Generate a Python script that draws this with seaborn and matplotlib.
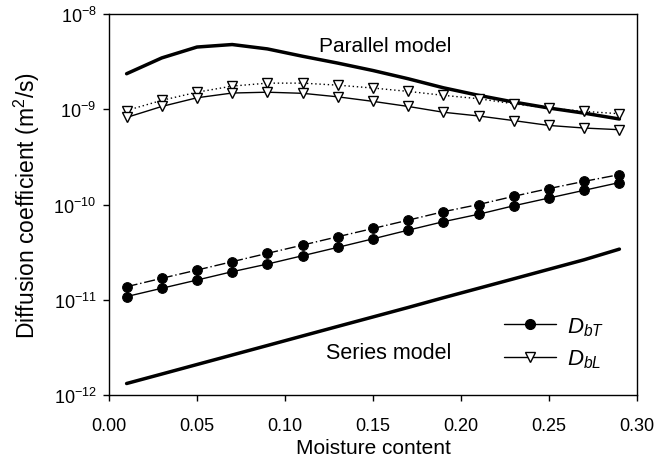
import numpy as np
import pandas as pd
import matplotlib
matplotlib.use("Agg")
import matplotlib.pyplot as plt
import matplotlib.ticker as mticker
import seaborn as sns
from matplotlib.lines import Line2D

# ---- data ----
moisture = [0.01, 0.03, 0.05, 0.07, 0.09, 0.11, 0.13, 0.15, 0.17, 0.19, 0.21, 0.23, 0.25, 0.27, 0.29]

parallel_model = [2.36e-9, 3.46e-9, 4.5e-9, 4.78e-9, 4.3e-9, 3.6e-9, 3.05e-9, 2.55e-9,
                  2.09e-9, 1.68e-9, 1.4e-9, 1.19e-9, 1.03e-9, 9.1e-10, 7.9e-10]
series_model = [1.32e-12, 1.66e-12, 2.09e-12, 2.63e-12, 3.31e-12, 4.17e-12, 5.25e-12, 6.6e-12,
                8.3e-12, 1.05e-11, 1.32e-11, 1.66e-11, 2.09e-11, 2.63e-11, 3.4e-11]

dbl_upper = [9.7e-10, 1.24e-9, 1.51e-9, 1.75e-9, 1.88e-9, 1.88e-9, 1.79e-9, 1.67e-9,
             1.54e-9, 1.40e-9, 1.29e-9, 1.14e-9, 1.03e-9, 9.5e-10, 8.97e-10]
dbl_lower = [8.2e-10, 1.07e-9, 1.32e-9, 1.48e-9, 1.51e-9, 1.47e-9, 1.35e-9, 1.21e-9,
             1.07e-9, 9.3e-10, 8.5e-10, 7.6e-10, 6.76e-10, 6.35e-10, 6.1e-10]

dbt_upper = [1.37e-11, 1.68e-11, 2.05e-11, 2.51e-11, 3.07e-11, 3.75e-11, 4.59e-11, 5.6e-11,
             6.85e-11, 8.4e-11, 1.0e-10, 1.22e-10, 1.47e-10, 1.75e-10, 2.06e-10]
dbt_lower = [1.08e-11, 1.32e-11, 1.61e-11, 1.97e-11, 2.37e-11, 2.9e-11, 3.55e-11, 4.36e-11,
             5.38e-11, 6.6e-11, 7.9e-11, 9.7e-11, 1.17e-10, 1.41e-10, 1.7e-10]

x_ticks = [0.00, 0.05, 0.10, 0.15, 0.20, 0.25, 0.30]
y_ticks = [1e-12, 1e-11, 1e-10, 1e-9, 1e-8]
legend_labels = [r"$D_{bT}$", r"$D_{bL}$"]

sns.set_theme(style="ticks")
plt.rcParams['font.family'] = ['Liberation Sans', 'DejaVu Sans']
plt.rcParams['mathtext.fontset'] = 'custom'
plt.rcParams['mathtext.rm'] = 'Liberation Sans'
plt.rcParams['mathtext.it'] = 'Liberation Sans:italic'
plt.rcParams['text.color'] = 'black'
plt.rcParams['axes.labelcolor'] = 'black'
plt.rcParams['xtick.color'] = 'black'
plt.rcParams['ytick.color'] = 'black'

fig = plt.figure(figsize=(6.72, 4.77), dpi=100)
ax = fig.add_axes([109/672, 1 - 396/477, (637-109)/672, (396-15)/477])

thin = dict(color="black", linewidth=1.0)
msz = 7

sns.lineplot(x=moisture, y=parallel_model, ax=ax, color="black", linewidth=2.5)
sns.lineplot(x=moisture, y=series_model, ax=ax, color="black", linewidth=2.5)

sns.lineplot(x=moisture, y=dbl_upper, ax=ax, linestyle=(0, (1, 2)), marker="v",
             markersize=msz, markerfacecolor="white", markeredgecolor="black",
             markeredgewidth=1.0, **thin)
sns.lineplot(x=moisture, y=dbl_lower, ax=ax, linestyle="-", marker="v",
             markersize=msz, markerfacecolor="white", markeredgecolor="black",
             markeredgewidth=1.0, **thin)
sns.lineplot(x=moisture, y=dbt_upper, ax=ax, linestyle=(0, (8, 2, 1, 2)), marker="o",
             markersize=msz, markerfacecolor="black", markeredgecolor="black", **thin)
sns.lineplot(x=moisture, y=dbt_lower, ax=ax, linestyle="-", marker="o",
             markersize=msz, markerfacecolor="black", markeredgecolor="black", **thin)

ax.set_yscale("log")
ax.set_xlim(0, 0.30)
ax.set_ylim(1e-12, 1e-8)
ax.set_xticks(x_ticks)
ax.set_xticklabels([f"{t:.2f}" for t in x_ticks])
ax.yaxis.set_major_locator(mticker.FixedLocator(y_ticks))
ax.yaxis.set_minor_locator(mticker.NullLocator())
ax.yaxis.set_major_formatter(mticker.FuncFormatter(lambda v, p: r"$10^{%d}$" % round(np.log10(v))))

for s in ax.spines.values():
    s.set_linewidth(1.0)
    s.set_color("black")
ax.tick_params(axis="both", direction="out", length=4, width=1.0, labelsize=13, colors="black")
ax.tick_params(axis="x", pad=12)
ax.tick_params(axis="y", pad=5)

ax.set_xlabel("Moisture content", fontsize=15, labelpad=3)
ax.set_ylabel(r"Diffusion coefficient (m$^2$/s)", fontsize=16.5, labelpad=8)

ax.text(0.157, 4.7e-9, "Parallel model", fontsize=15, ha="center", va="center")
ax.text(0.159, 2.8e-12, "Series model", fontsize=15.5, ha="center", va="center")

handles = [
    Line2D([], [], color="black", linewidth=1.0, marker="o", markersize=msz,
           markerfacecolor="black", markeredgecolor="black"),
    Line2D([], [], color="black", linewidth=1.0, marker="v", markersize=msz,
           markerfacecolor="white", markeredgecolor="black"),
]
ax.legend(handles, legend_labels, loc="lower right",
          bbox_to_anchor=(0.975, 0.012), frameon=False, fontsize=16,
          handlelength=2.3, handletextpad=0.5, labelspacing=0.45)

fig.savefig("out.png", dpi=100, facecolor="white")
